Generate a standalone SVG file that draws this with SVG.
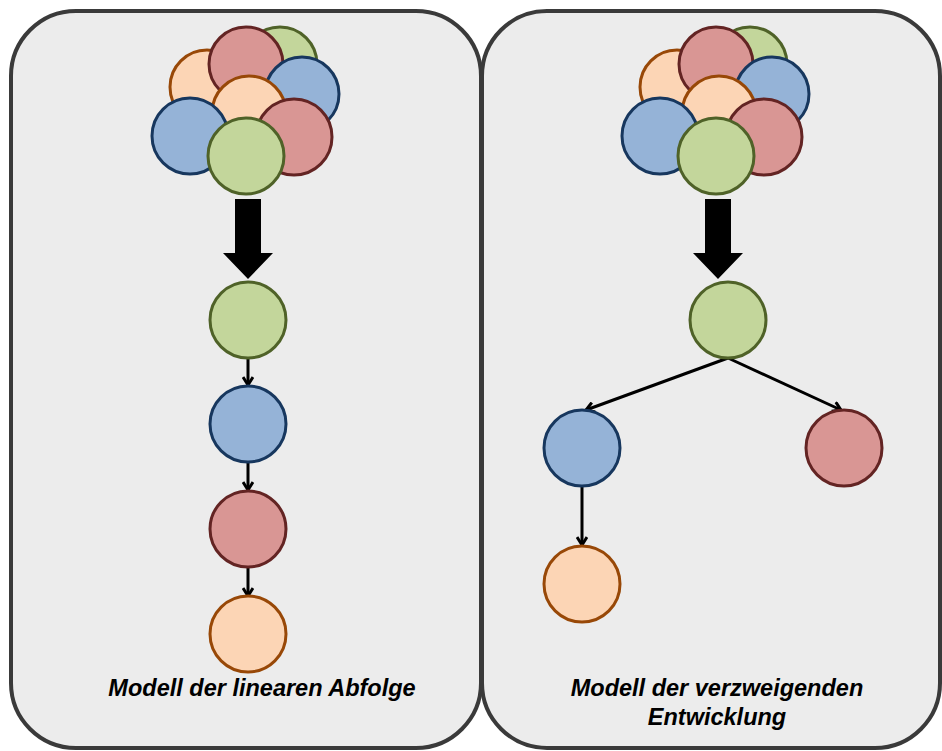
<svg xmlns="http://www.w3.org/2000/svg" width="942" height="751" viewBox="0 0 942 751">
<style>
.panel{fill:#ececec;stroke:#3a3a3a;stroke-width:4}
.g{fill:#c3d69b;stroke:#4f6228;stroke-width:3}
.b{fill:#95b3d7;stroke:#17375e;stroke-width:3}
.r{fill:#d99694;stroke:#632423;stroke-width:3}
.p{fill:#fcd5b5;stroke:#984807;stroke-width:3}
.c{stroke:#000;stroke-width:3;fill:none;marker-end:url(#ah)}
.big{fill:#000}
.t{font-family:"Liberation Sans",Arial,sans-serif;font-weight:bold;font-style:italic;font-size:23.5px;fill:#000;text-anchor:middle}
</style>
<defs>
<marker id="ah" markerWidth="12" markerHeight="12" refX="9" refY="6" orient="auto" markerUnits="userSpaceOnUse">
<path d="M1,1 L9,6 L1,11" fill="none" stroke="#000" stroke-width="3"/>
</marker>
<g id="cluster">
<circle cx="280" cy="64" r="37" class="g"/>
<circle cx="207" cy="87" r="37" class="p"/>
<circle cx="246" cy="64" r="37" class="r"/>
<circle cx="302" cy="94" r="37" class="b"/>
<circle cx="249" cy="113" r="37" class="p"/>
<circle cx="190" cy="136" r="38" class="b"/>
<circle cx="294" cy="137" r="38" class="r"/>
<circle cx="246" cy="156" r="38" class="g"/>
</g>
</defs>
<g id="panel-left"><rect x="11" y="11" width="470" height="737" rx="65" ry="65" class="panel"/></g>
<g id="panel-right"><rect x="482" y="11" width="458" height="737" rx="65" ry="65" class="panel"/></g>
<g id="cluster-left"><use href="#cluster"/></g>
<g id="cluster-right"><use href="#cluster" transform="translate(470,0)"/></g>
<g id="connectors">
<path class="big" d="M235,199 H261 V253 H273 L248,279 L223,253 H235 Z"/>
<path class="big" d="M705,199 H731 V253 H743 L718,279 L693,253 H705 Z"/>
<line x1="248" y1="358" x2="248" y2="385" class="c"/>
<line x1="248" y1="462" x2="248" y2="490" class="c"/>
<line x1="248" y1="567" x2="248" y2="596" class="c"/>
<line x1="728" y1="358" x2="586" y2="410" class="c"/>
<line x1="728" y1="358" x2="841" y2="410" class="c"/>
<line x1="582" y1="486" x2="582" y2="545" class="c"/>
</g>
<g id="n-left-1"><circle cx="248" cy="320" r="38" class="g"/></g>
<g id="n-left-2"><circle cx="248" cy="424" r="38" class="b"/></g>
<g id="n-left-3"><circle cx="248" cy="529" r="38" class="r"/></g>
<g id="n-left-4"><circle cx="248" cy="634" r="38" class="p"/></g>
<g id="n-right-1"><circle cx="728" cy="320" r="38" class="g"/></g>
<g id="n-right-2"><circle cx="582" cy="448" r="38" class="b"/></g>
<g id="n-right-3"><circle cx="844" cy="448" r="38" class="r"/></g>
<g id="n-right-4"><circle cx="582" cy="584" r="38" class="p"/></g>
<g id="labels">
<text class="t" x="262" y="696">Modell der linearen Abfolge</text>
<text class="t" x="717" y="696">Modell der verzweigenden</text>
<text class="t" x="717" y="725">Entwicklung</text>
</g>
</svg>
